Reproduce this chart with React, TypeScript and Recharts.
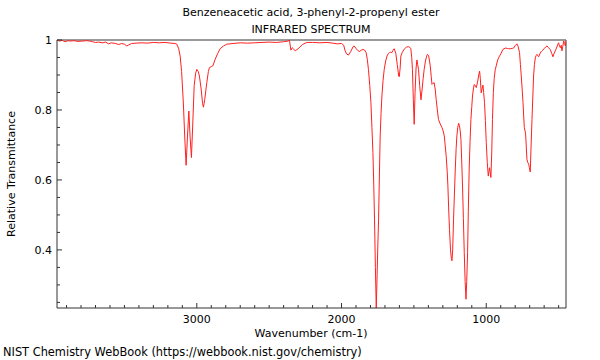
import { LineChart, Line, XAxis, YAxis, ReferenceLine } from 'recharts'

// wavenumber (cm-1)
const WAVENUMBERS = [
  3966, 3950, 3930, 3910, 3890, 3870, 3850, 3820, 3790, 3760, 3740, 3720, 3700, 3680, 3650, 3630,
  3610, 3590, 3560, 3540, 3520, 3500, 3484, 3470, 3450, 3420, 3380, 3340, 3300, 3260, 3220, 3180,
  3150, 3138, 3125, 3115, 3105, 3093, 3083, 3074, 3065, 3055, 3046, 3037, 3028, 3018, 3008, 3000,
  2990, 2982, 2970, 2960, 2954, 2945, 2931, 2920, 2913, 2900, 2889, 2873, 2855, 2839, 2815, 2793,
  2750, 2700, 2650, 2600, 2550, 2500, 2450, 2400, 2370, 2360, 2350, 2340, 2335, 2320, 2300, 2270,
  2240, 2200, 2150, 2100, 2060, 2030, 2000, 1985, 1975, 1965, 1952, 1935, 1920, 1913, 1900, 1888,
  1876, 1863, 1852, 1840, 1830, 1822, 1814, 1805, 1797, 1790, 1783, 1777, 1772, 1766, 1760, 1754,
  1750, 1744, 1738, 1733, 1727, 1721, 1713, 1705, 1695, 1686, 1677, 1669, 1660, 1652, 1645, 1636,
  1625, 1615, 1605, 1601, 1595, 1590, 1580, 1565, 1550, 1537, 1528, 1521, 1515, 1510, 1504, 1498,
  1492, 1485, 1479, 1474, 1468, 1460, 1451, 1443, 1436, 1429, 1420, 1412, 1406, 1398, 1392, 1387,
  1380, 1375, 1368, 1360, 1353, 1346, 1338, 1330, 1318, 1306, 1298, 1290, 1284, 1277, 1270, 1265,
  1260, 1254, 1247, 1241, 1237, 1232, 1226, 1220, 1214, 1208, 1203, 1197, 1191, 1185, 1180, 1175,
  1170, 1164, 1158, 1152, 1146, 1140, 1135, 1129, 1124, 1118, 1112, 1106, 1100, 1095, 1089, 1083,
  1076, 1069, 1060, 1052, 1046, 1041, 1035, 1029, 1023, 1018, 1012, 1006, 1000, 993, 986, 981,
  977, 972, 968, 962, 957, 951, 945, 938, 931, 923, 915, 900, 885, 869, 855, 845,
  834, 820, 811, 800, 788, 780, 770, 764, 758, 752, 746, 741, 737, 732, 728, 724,
  719, 713, 707, 702, 696, 690, 684, 678, 673, 667, 661, 655, 650, 644, 638, 630,
  622, 615, 600, 590, 580, 570, 558, 548, 539, 531, 523, 512, 505, 500, 494, 488,
  482, 477, 471, 465, 459, 453, 449,
]

// relative transmittance at each wavenumber
const TRANSMITTANCE = [
  1.0, 0.997, 0.999, 0.995, 0.998, 0.997, 0.998, 0.996, 0.997, 0.998, 0.997, 0.995, 0.993, 0.994, 0.992, 0.994,
  0.989, 0.992, 0.99, 0.987, 0.99, 0.988, 0.983, 0.986, 0.99, 0.991, 0.992, 0.991, 0.993, 0.992, 0.993, 0.991,
  0.99, 0.988, 0.975, 0.954, 0.91, 0.82, 0.72, 0.642, 0.72, 0.797, 0.72, 0.664, 0.76, 0.87, 0.905, 0.916,
  0.91, 0.897, 0.86, 0.818, 0.808, 0.83, 0.878, 0.91, 0.921, 0.924, 0.926, 0.945, 0.962, 0.975, 0.983, 0.988,
  0.99, 0.992, 0.991, 0.992, 0.993, 0.994, 0.993, 0.995, 0.997, 1.0, 0.971, 0.978, 0.976, 0.969, 0.975, 0.987,
  0.993, 0.993, 0.992, 0.993, 0.991, 0.989, 0.99, 0.985, 0.969, 0.96, 0.957, 0.968, 0.981, 0.983, 0.976, 0.97,
  0.967, 0.971, 0.973, 0.971, 0.964, 0.945, 0.916, 0.87, 0.821, 0.75, 0.678, 0.58, 0.488, 0.35, 0.232, 0.33,
  0.4, 0.488, 0.62, 0.726, 0.79, 0.84, 0.885, 0.916, 0.94, 0.954, 0.961, 0.964, 0.965, 0.964, 0.97, 0.975,
  0.962, 0.93, 0.897, 0.895, 0.92, 0.954, 0.965, 0.975, 0.98, 0.981, 0.979, 0.975, 0.95, 0.916, 0.83, 0.759,
  0.85, 0.92, 0.943, 0.93, 0.916, 0.87, 0.829, 0.86, 0.89, 0.916, 0.94, 0.954, 0.959, 0.955, 0.94, 0.926,
  0.895, 0.873, 0.876, 0.878, 0.86, 0.83, 0.8, 0.773, 0.76, 0.75, 0.74, 0.726, 0.7, 0.669, 0.625, 0.583,
  0.52, 0.459, 0.4, 0.375, 0.369, 0.4, 0.488, 0.56, 0.631, 0.69, 0.726, 0.75, 0.762, 0.755, 0.74, 0.716,
  0.66, 0.583, 0.49, 0.392, 0.31, 0.259, 0.31, 0.392, 0.51, 0.631, 0.71, 0.773, 0.81, 0.84, 0.86, 0.873,
  0.87, 0.864, 0.88, 0.9, 0.911, 0.89, 0.849, 0.86, 0.871, 0.85, 0.821, 0.77, 0.707, 0.65, 0.611, 0.625,
  0.635, 0.62, 0.607, 0.68, 0.773, 0.85, 0.89, 0.915, 0.926, 0.94, 0.949, 0.96, 0.973, 0.977, 0.976, 0.975,
  0.975, 0.976, 0.977, 0.984, 0.989, 0.982, 0.964, 0.93, 0.897, 0.86, 0.821, 0.78, 0.75, 0.74, 0.731, 0.7,
  0.659, 0.65, 0.645, 0.635, 0.623, 0.7, 0.773, 0.84, 0.897, 0.93, 0.949, 0.956, 0.959, 0.955, 0.952, 0.96,
  0.966, 0.969, 0.975, 0.98, 0.983, 0.978, 0.973, 0.962, 0.952, 0.962, 0.969, 0.98, 0.988, 0.992, 0.982, 0.978,
  0.985, 0.969, 0.982, 0.997, 0.99, 0.983, 1.0,
]

const X_TICKS = [
  500, 600, 700, 800, 900, 1000, 1100, 1200, 1300, 1400, 1500, 1600, 1700, 1800, 1900, 2000, 2100,
  2200, 2300, 2400, 2500, 2600, 2700, 2800, 2900, 3000, 3100, 3200, 3300, 3400, 3500, 3600, 3700,
  3800, 3900,
]
const X_LABELS = [1000, 2000, 3000]
const Y_TICKS = [0.25, 0.3, 0.35, 0.4, 0.45, 0.5, 0.55, 0.6, 0.65, 0.7, 0.75, 0.8, 0.85, 0.9, 0.95, 1]
const Y_LABELS = [0.4, 0.6, 0.8, 1]

const FONT = '"DejaVu Sans", sans-serif'
const AXIS = '#333'

const data = WAVENUMBERS.map((wn, i) => ({ wn, t: TRANSMITTANCE[i] }))

function XTick(props: any) {
  const { x, y, payload } = props
  const major = X_LABELS.includes(payload.value)
  return (
    <g>
      <line x1={x} x2={x} y1={y} y2={y - (major ? 5 : 3)} stroke={AXIS} />
      {major && (
        <text x={x} y={y + 15} textAnchor="middle" fontSize={11} fontFamily={FONT} fill="#000">
          {payload.value}
        </text>
      )}
    </g>
  )
}

function YTick(props: any) {
  const { x, y, payload } = props
  const major = Y_LABELS.some((v) => Math.abs(v - payload.value) < 1e-6)
  return (
    <g>
      <line x1={x} x2={x + (major ? 5 : 3)} y1={y} y2={y} stroke={AXIS} />
      {major && (
        <text x={x - 5} y={y + 4} textAnchor="end" fontSize={11} fontFamily={FONT} fill="#000">
          {payload.value === 1 ? '1' : payload.value.toFixed(1)}
        </text>
      )}
    </g>
  )
}

export default function App() {
  return (
    <div style={{ position: 'absolute', left: 0, top: 0, width: 600, height: 360, background: '#fff', fontFamily: FONT }}>
      <div style={{ position: 'absolute', left: 0, width: 622, top: 4, textAlign: 'center', fontSize: 11, lineHeight: '17px' }}>
        Benzeneacetic acid, 3-phenyl-2-propenyl ester
        <br />
        INFRARED SPECTRUM
      </div>
      <LineChart width={600} height={360} data={data} margin={{ top: 40, right: 34, bottom: 22, left: 7 }}>
        <XAxis
          type="number"
          dataKey="wn"
          domain={[449, 3966]}
          reversed
          allowDataOverflow
          ticks={X_TICKS}
          interval={0}
          height={30}
          tickSize={0}
          tickMargin={0}
          tickLine={false}
          tick={(p: any) => <XTick {...p} />}
          axisLine={{ stroke: AXIS }}
        />
        <YAxis
          type="number"
          domain={[0.234, 1]}
          allowDataOverflow
          ticks={Y_TICKS}
          interval={0}
          width={50}
          tickSize={0}
          tickMargin={0}
          tickLine={false}
          tick={(p: any) => <YTick {...p} />}
          axisLine={{ stroke: AXIS }}
        />
        <ReferenceLine y={1} stroke="#999" strokeWidth={2} />
        <ReferenceLine x={449} stroke="#999" strokeWidth={2} />
        <Line
          type="linear"
          dataKey="t"
          stroke="#ff2020"
          strokeWidth={1}
          dot={false}
          isAnimationActive={false}
        />
      </LineChart>
      <div style={{ position: 'absolute', left: 311, top: 327, transform: 'translateX(-50%)', fontSize: 11, whiteSpace: 'nowrap' }}>
        Wavenumber (cm-1)
      </div>
      <div
        style={{
          position: 'absolute',
          left: 11,
          top: 174,
          transform: 'translate(-50%, -50%) rotate(-90deg)',
          fontSize: 11,
          whiteSpace: 'nowrap',
        }}
      >
        Relative Transmittance
      </div>
      <div style={{ position: 'absolute', left: 3, top: 345, fontSize: 11.4, whiteSpace: 'nowrap' }}>
        NIST Chemistry WebBook (https://webbook.nist.gov/chemistry)
      </div>
    </div>
  )
}
